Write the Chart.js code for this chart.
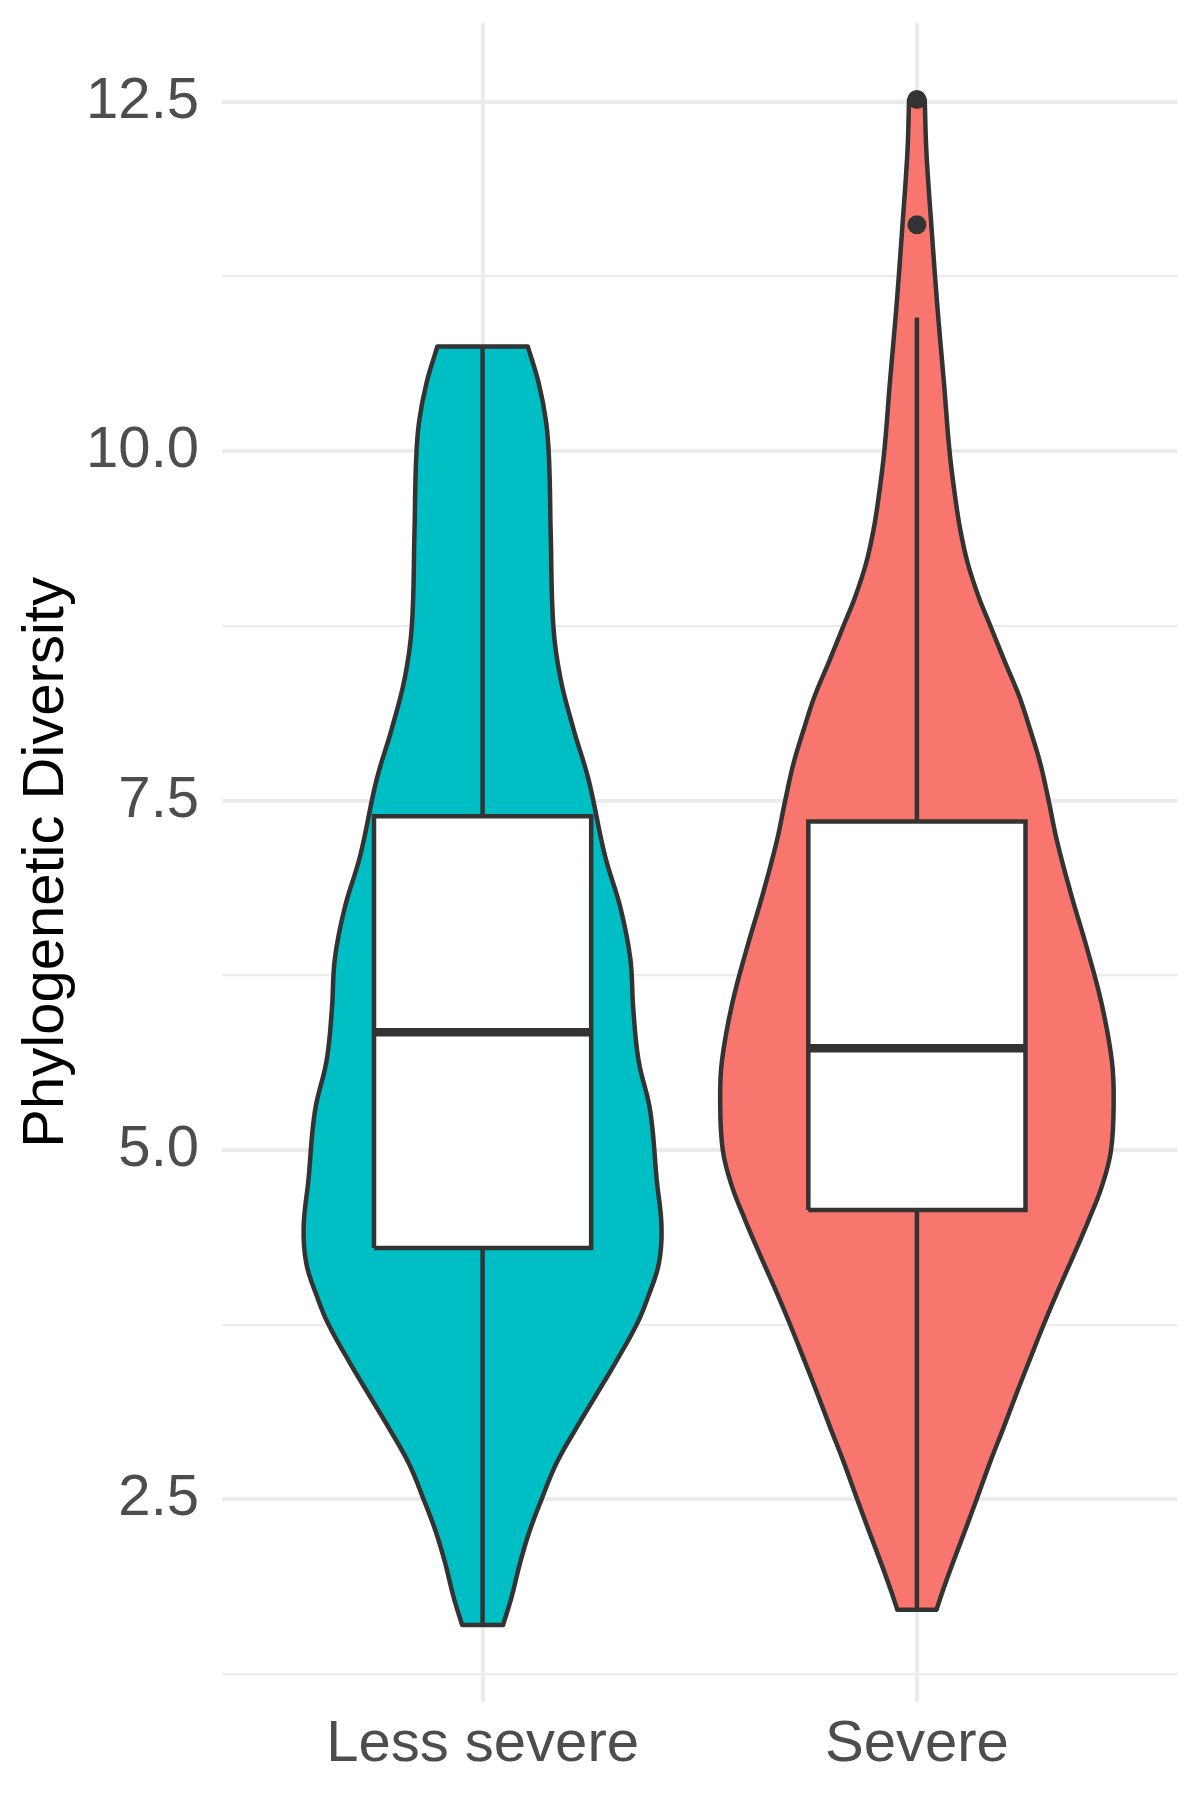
<!DOCTYPE html>
<html><head><meta charset="utf-8">
<script src="https://cdn.jsdelivr.net/npm/chart.js@4.4.1/dist/chart.umd.min.js"></script>
<style>html,body{margin:0;padding:0;background:#fff}#wrap{width:1200px;height:1800px;position:relative}</style>
</head><body><div id="wrap"><canvas id="c"></canvas></div>
<script>
// ---- data ----
const categories = ['Less severe', 'Severe'];
const yMajorTicks = [2.5, 5.0, 7.5, 10.0, 12.5];
const yMinorTicks = [1.25, 3.75, 6.25, 8.75, 11.25];

// violin outlines: value levels and scaled density half-widths (category units)
const lessLevels  = [1.600, 1.803, 2.042, 2.280, 2.502, 2.758, 2.996, 3.234, 3.473, 3.752, 3.949, 4.189, 4.451, 4.784, 5.278, 5.643, 6.008, 6.373, 6.738, 7.103, 7.650, 8.015, 8.380, 8.745, 9.394, 9.944, 10.216, 10.490, 10.750];
const lessDensity = [0.047, 0.067, 0.086, 0.109, 0.136, 0.170, 0.213, 0.259, 0.305, 0.355, 0.381, 0.406, 0.412, 0.401, 0.386, 0.359, 0.347, 0.340, 0.317, 0.282, 0.244, 0.209, 0.179, 0.163, 0.157, 0.153, 0.146, 0.129, 0.104];

const severeLevels  = [1.710, 1.858, 2.031, 2.278, 2.504, 2.770, 3.017, 3.263, 3.509, 3.751, 4.002, 4.248, 4.495, 4.741, 5.000, 5.357, 5.635, 6.037, 6.438, 6.840, 7.218, 7.504, 7.767, 8.005, 8.243, 8.482, 8.751, 8.959, 9.198, 9.436, 9.674, 10.003, 10.500, 11.037, 11.586, 12.133, 12.516];
const severeDensity = [0.045, 0.061, 0.081, 0.111, 0.138, 0.169, 0.200, 0.230, 0.261, 0.292, 0.326, 0.361, 0.395, 0.426, 0.447, 0.453, 0.449, 0.426, 0.392, 0.354, 0.322, 0.303, 0.284, 0.261, 0.236, 0.204, 0.169, 0.142, 0.117, 0.100, 0.088, 0.075, 0.062, 0.047, 0.034, 0.022, 0.018];

// box stats: [lower whisker, Q1, median, Q3, upper whisker]
const lessStats   = [1.600, 4.298, 5.843, 7.387, 10.750];
const severeStats = [1.710, 4.571, 5.727, 7.350, 10.956];
const lessOutliers   = [];
const severeOutliers = [11.621, 12.516];

// ---- styles ----
const FONT = "'Liberation Sans', Arial, sans-serif";
const OUTLINE = '#333333';
const GRID = '#EBEBEB';
const BOX_HALF = 0.25;
const LW = 4.5;

function groupDatasets(pos, levels, dens, stats, outliers, color) {
  const left = levels.map((v, i) => ({x: pos - dens[i], y: v}));
  const right = levels.map((v, i) => ({x: pos + dens[i], y: v}));
  const poly = left.concat(right.slice().reverse());
  const n = levels.length - 1;
  const base = {type: 'line', showLine: true, pointRadius: 0, pointHoverRadius: 0, fill: false, borderColor: OUTLINE, clip: false};
  const [lo, q1, med, q3, hi] = stats;
  return [
    Object.assign({}, base, {data: poly, fill: 'shape', backgroundColor: color, borderWidth: 0, borderColor: 'rgba(0,0,0,0)', tension: 0, order: 10}),
    Object.assign({}, base, {data: left, borderWidth: LW, tension: 0.4, order: 9}),
    Object.assign({}, base, {data: right, borderWidth: LW, tension: 0.4, order: 9}),
    Object.assign({}, base, {data: [left[n], right[n]], borderWidth: LW, borderCapStyle: 'round', tension: 0, order: 9}),
    Object.assign({}, base, {data: [left[0], right[0]], borderWidth: LW, borderCapStyle: 'round', tension: 0, order: 9}),
    Object.assign({}, base, {data: [{x: pos, y: q3}, {x: pos, y: hi}], borderWidth: LW, order: 8}),
    Object.assign({}, base, {data: [{x: pos, y: q1}, {x: pos, y: lo}], borderWidth: LW, order: 8}),
    Object.assign({}, base, {data: [{x: pos - BOX_HALF, y: q1}, {x: pos - BOX_HALF, y: q3}, {x: pos + BOX_HALF, y: q3}, {x: pos + BOX_HALF, y: q1}, {x: pos - BOX_HALF, y: q1}],
      fill: 'shape', backgroundColor: '#FFFFFF', borderWidth: LW, borderJoinStyle: 'miter', tension: 0, order: 7}),
    Object.assign({}, base, {data: [{x: pos - BOX_HALF, y: med}, {x: pos + BOX_HALF, y: med}], borderWidth: 8.5, borderCapStyle: 'butt', order: 6}),
    {type: 'scatter', data: outliers.map(v => ({x: pos, y: v})), pointRadius: 9.5, pointBackgroundColor: OUTLINE, pointBorderWidth: 0, showLine: false, order: 1, clip: false}
  ];
}

const datasets = []
  .concat(groupDatasets(1, lessLevels, lessDensity, lessStats, lessOutliers, '#00BFC4'))
  .concat(groupDatasets(2, severeLevels, severeDensity, severeStats, severeOutliers, '#F8766D'));

new Chart(document.getElementById('c'), {
  type: 'scatter',
  data: {datasets},
  options: {
    responsive: true,
    maintainAspectRatio: false,
    animation: false,
    events: [],
    layout: {padding: {top: 23, right: 22.5, left: 0, bottom: 0}},
    plugins: {legend: {display: false}, tooltip: {enabled: false}},
    scales: {
      x: {
        type: 'linear', min: 0.4, max: 2.6,
        afterBuildTicks: s => { s.ticks = categories.map((c, i) => ({value: i + 1})); },
        afterFit: s => { s.height = 98.3; s.paddingLeft = 0; s.paddingRight = 0; },
        ticks: {autoSkip: false, maxRotation: 0, minRotation: 0, padding: 8, color: '#4D4D4D',
          font: {family: FONT, size: 58}, callback: v => categories[Math.round(v) - 1] || ''},
        grid: {color: GRID, lineWidth: 4, drawTicks: false},
        border: {display: false}
      },
      y: {
        type: 'linear', min: 1.052, max: 13.064,
        afterBuildTicks: s => { s.ticks = yMinorTicks.concat(yMajorTicks).sort((a, b) => a - b).map(v => ({value: v})); },
        afterFit: s => { s.width = 222; s.paddingTop = 0; s.paddingBottom = 0; },
        ticks: {autoSkip: false, padding: 23, color: '#4D4D4D', font: {family: FONT, size: 58},
          callback: v => yMajorTicks.includes(v) ? v.toFixed(1) : ''},
        grid: {color: GRID, drawTicks: false,
          lineWidth: ctx => (ctx.tick && yMajorTicks.includes(ctx.tick.value)) ? 4 : 2.2},
        border: {display: false},
        title: {display: true, text: 'Phylogenetic Diversity', color: '#000000',
          font: {family: FONT, size: 58}, padding: {top: 12, bottom: 0}}
      }
    }
  }
});
</script>
</body></html>
